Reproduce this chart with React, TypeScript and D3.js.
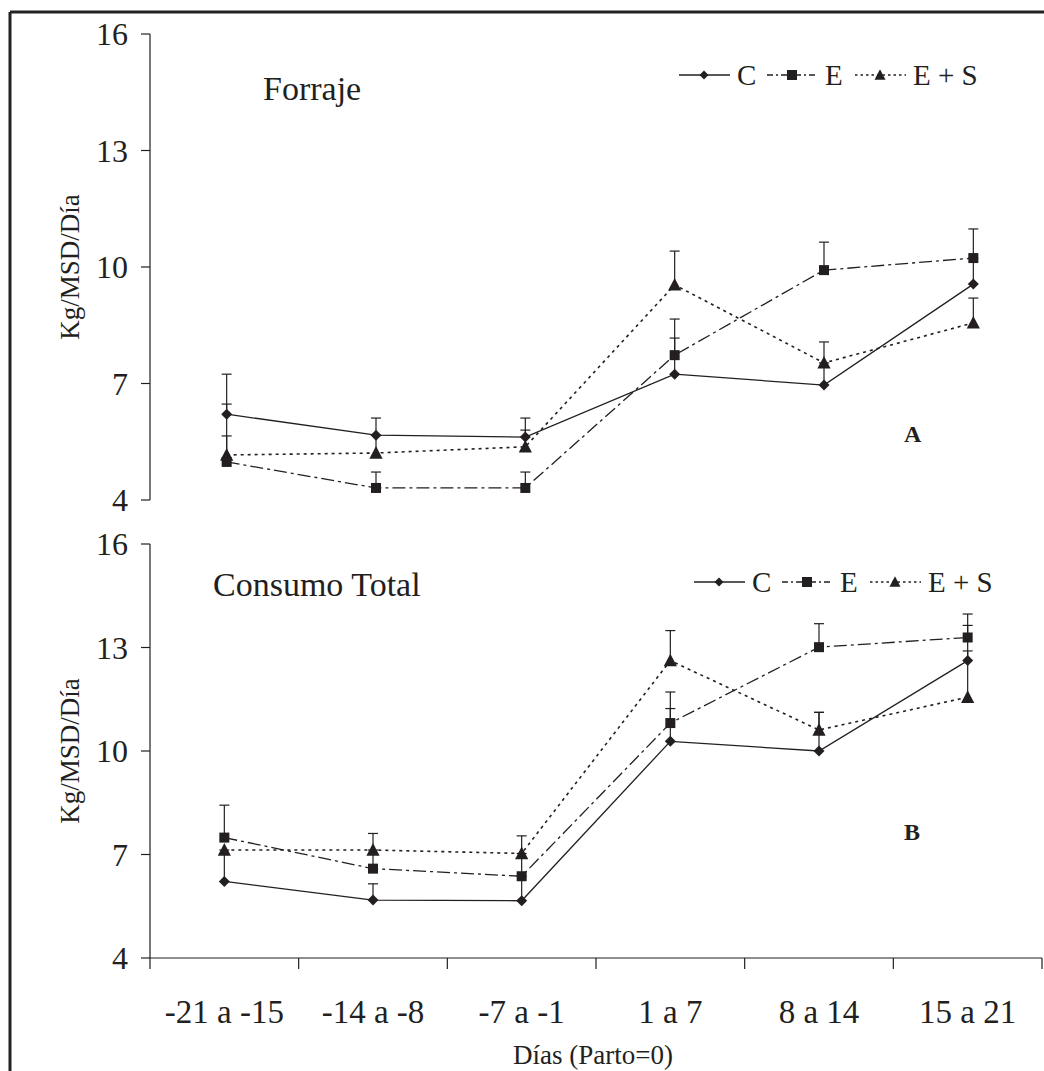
import React from "react";
import { scaleBand, scaleLinear, line } from "d3";

const categories = ["-21 a -15", "-14 a -8", "-7 a -1", "1 a 7", "8 a 14", "15 a 21"];
const yTicks = [4, 7, 10, 13, 16];
const seriesNames = ["C", "E", "E + S"];

// Forraje (A)
const forrajeC = [6.21, 5.67, 5.62, 7.24, 6.96, 9.56];
const forrajeE = [4.98, 4.31, 4.31, 7.73, 9.92, 10.23];
const forrajeES = [5.16, 5.21, 5.37, 9.54, 7.53, 8.56];
const forrajeErrC = [1.03, 0.44, 0.49, 0.93, 0.57, 0.67];
const forrajeErrE = [1.49, 0.41, 0.41, 0.93, 0.72, 0.75];
const forrajeErrES = [0.49, 0.46, 0.43, 0.87, 0.54, 0.64];

// Consumo Total (B)
const totalC = [6.22, 5.68, 5.66, 10.28, 10.0, 12.62];
const totalE = [7.49, 6.59, 6.37, 10.81, 13.01, 13.29];
const totalES = [7.13, 7.13, 7.03, 12.62, 10.61, 11.56];
const totalErrC = [0.91, 0.47, 0.71, 0.95, 1.12, 1.02];
const totalErrE = [0.94, 0.54, 0.66, 0.9, 0.68, 0.68];
const totalErrES = [0, 0.48, 0.51, 0.87, 0.51, 1.34];

const ink = "#231f20";
const font = "'Liberation Serif', 'Times New Roman', serif";
const dash = ["none", "13,4,3,4", "3,4"];

const marker = (kind, x, y, s) => {
  if (kind === 0) {
    return <path d={`M${x},${y - s}L${x + s},${y}L${x},${y + s}L${x - s},${y}Z`} fill={ink} />;
  }
  if (kind === 1) {
    return <rect x={x - s} y={y - s} width={2 * s} height={2 * s} fill={ink} />;
  }
  return <path d={`M${x},${y - s * 1.15}L${x + s * 1.1},${y + s * 0.95}L${x - s * 1.1},${y + s * 0.95}Z`} fill={ink} />;
};

const Legend = ({ x, y }) => {
  const offsets = [0, 88, 176];
  return (
    <g>
      {seriesNames.map((name, i) => {
        const x0 = x + offsets[i];
        return (
          <g key={name}>
            <line x1={x0} x2={x0 + 51} y1={y} y2={y} stroke={ink} strokeWidth={1.4} strokeDasharray={i === 1 ? "6,3,2,3" : i === 2 ? "2.5,3" : "none"} />
            {marker(i, x0 + 25, y, i === 0 ? 4.5 : 5)}
            <text x={x0 + 58} y={y + 10} fontSize={29} fontFamily={font} fill={ink}>{name}</text>
          </g>
        );
      })}
    </g>
  );
};

const Panel = ({ top, bottom, x0, x1, values, errors, title, titleX, titleY, letter, letterY, legendX, legendY, showXAxis }) => {
  const xScale = scaleBand().domain(categories).range([x0, x1]);
  const yScale = scaleLinear().domain([4, 16]).range([bottom, top]);
  const cx = (c) => xScale(c) + xScale.bandwidth() / 2;
  const path = line().x((d, i) => cx(categories[i])).y((d) => yScale(d));

  return (
    <g>
      <line x1={150} x2={150} y1={top} y2={bottom} stroke={ink} strokeWidth={1.2} />
      {yTicks.map((t) => (
        <g key={t}>
          <line x1={141} x2={150} y1={yScale(t)} y2={yScale(t)} stroke={ink} strokeWidth={1.2} />
          <text x={128} y={yScale(t)} dy="0.35em" textAnchor="end" fontSize={32} fontFamily={font} fill={ink}>{t}</text>
        </g>
      ))}
      {showXAxis && (
        <g>
          <line x1={x0} x2={x1} y1={bottom} y2={bottom} stroke={ink} strokeWidth={1.2} />
          {[...categories.map((c) => xScale(c)), x1].map((tx, i) => (
            <line key={i} x1={tx} x2={tx} y1={bottom} y2={bottom + 11} stroke={ink} strokeWidth={1.2} />
          ))}
          {categories.map((c) => (
            <text key={c} x={cx(c)} y={bottom + 65} textAnchor="middle" fontSize={33} fontFamily={font} fill={ink}>{c}</text>
          ))}
        </g>
      )}
      <text x={79} y={(top + bottom) / 2} transform={`rotate(-90, 79, ${(top + bottom) / 2})`} textAnchor="middle" fontSize={27} fontFamily={font} fill={ink}>Kg/MSD/Día</text>
      <text x={titleX} y={titleY} fontSize={34} fontFamily={font} fill={ink}>{title}</text>
      <text x={904} y={letterY} fontSize={24} fontWeight="bold" fontFamily={font} fill={ink}>{letter}</text>

      {values.map((vals, s) => (
        <path key={s} d={path(vals)} fill="none" stroke={ink} strokeWidth={s === 2 ? 1.6 : 1.3} strokeDasharray={dash[s]} />
      ))}
      {values.map((vals, s) =>
        vals.map((v, i) => {
          const e = errors[s][i];
          if (!e) return null;
          const x = cx(categories[i]);
          return (
            <g key={`${s}-${i}`}>
              <line x1={x} x2={x} y1={yScale(v)} y2={yScale(v + e)} stroke={ink} strokeWidth={1.2} />
              <line x1={x - 5} x2={x + 5} y1={yScale(v + e)} y2={yScale(v + e)} stroke={ink} strokeWidth={1.2} />
            </g>
          );
        })
      )}
      {values.map((vals, s) =>
        vals.map((v, i) => <g key={`m${s}-${i}`}>{marker(s, cx(categories[i]), yScale(v), s === 0 ? 5.5 : s === 1 ? 5 : 6)}</g>)
      )}
      <Legend x={legendX} y={legendY} />
    </g>
  );
};

export default function App() {
  return (
    <svg width={1044} height={1071} style={{ position: "absolute", left: 0, top: 0, background: "#fff" }}>
      <rect width={1044} height={1071} fill="#fff" />
      <line x1={10} x2={1044} y1={12} y2={12} stroke="#222" strokeWidth={3} />
      <line x1={10} x2={10} y1={12} y2={1071} stroke="#222" strokeWidth={3} />
      <Panel
        top={34}
        bottom={500}
        x0={152}
        x1={1048}
        values={[forrajeC, forrajeE, forrajeES]}
        errors={[forrajeErrC, forrajeErrE, forrajeErrES]}
        title="Forraje"
        titleX={263}
        titleY={100}
        letter="A"
        letterY={442}
        legendX={679}
        legendY={75}
        showXAxis={false}
      />
      <Panel
        top={544}
        bottom={958}
        x0={150}
        x1={1042}
        values={[totalC, totalE, totalES]}
        errors={[totalErrC, totalErrE, totalErrES]}
        title="Consumo Total"
        titleX={213}
        titleY={596}
        letter="B"
        letterY={840}
        legendX={694}
        legendY={582}
        showXAxis={true}
      />
      <text x={593} y={1064} textAnchor="middle" fontSize={27} fontFamily={font} fill={ink}>Días (Parto=0)</text>
    </svg>
  );
}
